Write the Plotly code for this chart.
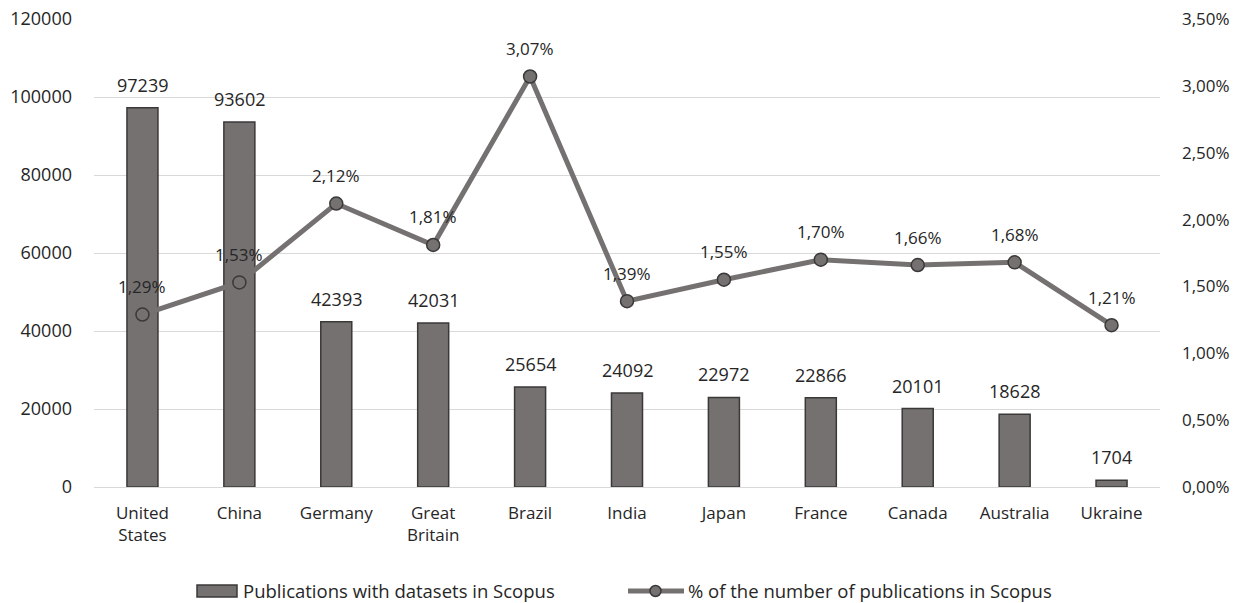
import plotly.graph_objects as go

countries = ["United<br>States", "China", "Germany", "Great<br>Britain", "Brazil", "India",
             "Japan", "France", "Canada", "Australia", "Ukraine"]
publications = [97239, 93602, 42393, 42031, 25654, 24092, 22972, 22866, 20101, 18628, 1704]
share = [0.0129, 0.0153, 0.0212, 0.0181, 0.0307, 0.0139, 0.0155, 0.0170, 0.0166, 0.0168, 0.0121]
bar_name = "Publications with datasets in Scopus"
line_name = "% of the number of publications in Scopus"

FONT = "Open Sans"
GREY = "#757171"
DARK = "#3b3838"
TXT = "#262626"

fig = go.Figure()
fig.add_trace(go.Bar(
    x=countries, y=publications, name=bar_name,
    marker=dict(color=GREY, line=dict(color=DARK, width=1.5)),
    width=0.32, showlegend=False,
))
fig.add_trace(go.Scatter(
    x=countries, y=share, name=line_name, yaxis="y2",
    mode="lines+markers",
    line=dict(color=GREY, width=5),
    marker=dict(size=13, color=GREY, line=dict(color=DARK, width=1.5)),
    cliponaxis=False, showlegend=False,
))

annotations = []
for c, v in zip(countries, publications):
    annotations.append(dict(x=c, y=v, xref="x", yref="y", text=str(v), showarrow=False,
                            yshift=23, font=dict(size=18, color=TXT, family=FONT)))
for c, v in zip(countries, share):
    annotations.append(dict(x=c, y=v, xref="x", yref="y2",
                            text=f"{v*100:.2f}%".replace(".", ","), showarrow=False,
                            yshift=28, font=dict(size=17, color=TXT, family=FONT)))

# custom legend (plot area: x 94..1160 px, y 19..487 px)
L, R, T, B = 94, 1160, 19, 487
def px(xp):
    return (xp - L) / (R - L)
def py(yp):
    return (B - yp) / (B - T)

shapes = [
    dict(type="rect", xref="paper", yref="paper", x0=px(197), x1=px(237), y0=py(597), y1=py(585),
         fillcolor=GREY, line=dict(color=DARK, width=1.5)),
    dict(type="line", xref="paper", yref="paper", x0=px(628), x1=px(684), y0=py(591), y1=py(591),
         line=dict(color=GREY, width=5)),
    dict(type="circle", xref="paper", yref="paper", x0=px(650), x1=px(661), y0=py(596.5), y1=py(585.5),
         fillcolor=GREY, line=dict(color=DARK, width=1.5)),
]
annotations.append(dict(x=px(242), y=py(590), xref="paper", yref="paper", text=bar_name,
                        showarrow=False, xanchor="left", yanchor="middle", borderpad=0,
                        font=dict(size=18.5, color=TXT, family=FONT)))
annotations.append(dict(x=px(687), y=py(590), xref="paper", yref="paper", text=line_name,
                        showarrow=False, xanchor="left", yanchor="middle", borderpad=0,
                        font=dict(size=18.5, color=TXT, family=FONT)))

fig.update_layout(
    width=1238, height=603,
    margin=dict(l=L, r=1238 - R, t=T, b=603 - B, autoexpand=False),
    paper_bgcolor="white", plot_bgcolor="white",
    separators=",.",
    font=dict(family=FONT, size=17, color=TXT),
    showlegend=False,
    xaxis=dict(range=[-0.5, 10.5], showgrid=False, showline=False, ticks="",
               tickfont=dict(size=17), automargin=False, ticklabelstandoff=14),
    yaxis=dict(range=[0, 120000], dtick=20000, tickformat="d", showgrid=True,
               gridcolor="#d9d9d9", gridwidth=1.3, zeroline=True, zerolinecolor="#d9d9d9",
               zerolinewidth=1.3, showline=False, ticks="", ticklabelstandoff=21,
               tickfont=dict(size=18), automargin=False),
    yaxis2=dict(range=[0, 0.035], dtick=0.005, tickformat=".2%", overlaying="y", side="right",
                showgrid=False, zeroline=False, showline=False, ticks="", ticklabelstandoff=21,
                tickfont=dict(size=17), automargin=False),
    annotations=annotations, shapes=shapes,
)

fig.write_html("out.html", config={"displayModeBar": False},
               post_script="document.body.style.margin='0';document.body.style.overflow='hidden';")
